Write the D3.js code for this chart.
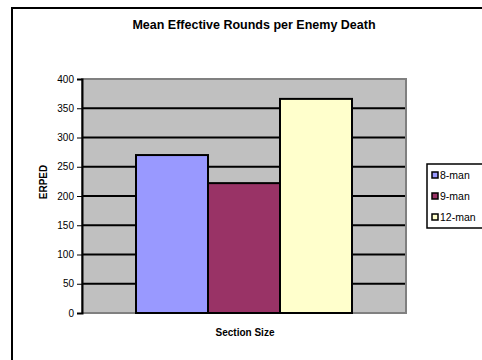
<!DOCTYPE html>
<html>
<head>
<meta charset="utf-8">
<script src="https://cdn.jsdelivr.net/npm/d3@7"></script>
<style>
  html, body { margin: 0; padding: 0; background: #fff; overflow: hidden; }
  svg { display: block; font-family: "Liberation Sans", Arial, sans-serif; }
</style>
</head>
<body>
<svg id="chart" width="482" height="360"></svg>
<script>
// Section sizes and their mean effective rounds per enemy death
const series = ["8-man", "9-man", "12-man"];
const values = [270, 222, 366];
const colors = ["#9999FF", "#993366", "#FFFFCC"];
const yTicks = [0, 50, 100, 150, 200, 250, 300, 350, 400];

const svg = d3.select("#chart");

// outer chart frame (runs past the right and bottom edges)
svg.append("rect")
  .attr("x", 12).attr("y", 8)
  .attr("width", 600).attr("height", 500)
  .attr("fill", "#fff").attr("stroke", "#000").attr("stroke-width", 2);

const plot = { left: 82, top: 79, right: 406, bottom: 313 };

const y = d3.scaleLinear().domain([0, 400]).range([plot.bottom, plot.top]);
const x = d3.scaleBand().domain(series)
  .range([plot.left + (plot.right - plot.left) / 6, plot.right - (plot.right - plot.left) / 6])
  .paddingInner(0).paddingOuter(0);

// plot background
svg.append("rect")
  .attr("x", plot.left).attr("y", plot.top)
  .attr("width", plot.right - plot.left).attr("height", plot.bottom - plot.top)
  .attr("fill", "#C0C0C0");

// gridlines
svg.append("g").selectAll("line")
  .data(yTicks.filter(d => d > 0))
  .join("line")
  .attr("x1", plot.left).attr("x2", plot.right)
  .attr("y1", d => y(d)).attr("y2", d => y(d))
  .attr("stroke", "#000").attr("stroke-width", 2);

// plot border
svg.append("rect")
  .attr("x", plot.left).attr("y", plot.top)
  .attr("width", plot.right - plot.left).attr("height", plot.bottom - plot.top)
  .attr("fill", "none").attr("stroke", "#808080").attr("stroke-width", 2);

// bars
svg.append("g").selectAll("rect")
  .data(values)
  .join("rect")
  .attr("x", (d, i) => x(series[i]))
  .attr("y", d => y(d))
  .attr("width", x.bandwidth())
  .attr("height", d => y(0) - y(d))
  .attr("fill", (d, i) => colors[i])
  .attr("stroke", "#000").attr("stroke-width", 2);

// y axis
const yAxis = d3.axisLeft(y).tickValues(yTicks).tickSize(5).tickPadding(3);
const gy = svg.append("g")
  .attr("transform", `translate(${plot.left},0)`)
  .call(yAxis);
gy.select(".domain").attr("stroke", "#000").attr("stroke-width", 2);
gy.selectAll(".tick line").attr("stroke", "#000").attr("stroke-width", 1);
gy.selectAll(".tick text").attr("font-size", 10).attr("fill", "#000")
  .attr("font-family", "Liberation Sans, Arial, sans-serif");

// titles
svg.append("text")
  .attr("x", 254).attr("y", 29)
  .attr("text-anchor", "middle")
  .attr("font-size", 12.5).attr("font-weight", "bold")
  .text("Mean Effective Rounds per Enemy Death");

svg.append("text")
  .attr("x", 245).attr("y", 336)
  .attr("text-anchor", "middle")
  .attr("font-size", 10).attr("font-weight", "bold")
  .text("Section Size");

svg.append("text")
  .attr("transform", "translate(47,182) rotate(-90)")
  .attr("text-anchor", "middle")
  .attr("font-size", 10).attr("font-weight", "bold")
  .text("ERPED");

// legend
const legend = svg.append("g");
legend.append("rect")
  .attr("x", 427).attr("y", 164)
  .attr("width", 70).attr("height", 64)
  .attr("fill", "#fff").attr("stroke", "#000").attr("stroke-width", 1.5);

const items = legend.selectAll("g.item")
  .data(series)
  .join("g")
  .attr("class", "item")
  .attr("transform", (d, i) => `translate(432,${175 + i * 21})`);
items.append("rect")
  .attr("x", 0).attr("y", -3)
  .attr("width", 6).attr("height", 6)
  .attr("fill", (d, i) => colors[i])
  .attr("stroke", "#000").attr("stroke-width", 1.5);
items.append("text")
  .attr("x", 8).attr("y", 4)
  .attr("font-size", 10.5)
  .text(d => d);
</script>
</body>
</html>
